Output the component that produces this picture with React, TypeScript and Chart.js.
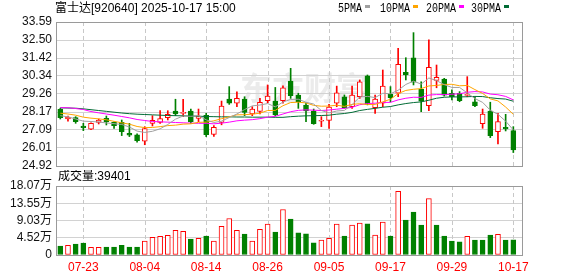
import React, { useEffect, useRef } from 'react';
import { Chart, registerables } from 'chart.js';

Chart.register(...registerables);

// ---------------- data ----------------
const dates = [
  '07-18', '07-21', '07-22', '07-23', '07-24', '07-25', '07-28', '07-29', '07-30', '07-31',
  '08-01', '08-04', '08-05', '08-06', '08-07', '08-08', '08-11', '08-12', '08-13', '08-14',
  '08-15', '08-18', '08-19', '08-20', '08-21', '08-22', '08-25', '08-26', '08-27', '08-28',
  '08-29', '09-01', '09-02', '09-03', '09-04', '09-05', '09-08', '09-09', '09-10', '09-11',
  '09-12', '09-15', '09-16', '09-17', '09-18', '09-19', '09-22', '09-23', '09-24', '09-25',
  '09-26', '09-29', '09-30', '10-09', '10-10', '10-13', '10-14', '10-15', '10-16', '10-17',
];

const openP = [
  28.33, 27.76, 27.83, 27.33, 27.13, 27.55, 27.79, 27.55, 27.55, 26.89,
  26.79, 26.41, 27.49, 27.55, 27.83, 28.23, 28.09, 28.23, 27.79, 27.97,
  26.82, 27.55, 28.95, 28.70, 28.95, 28.05, 28.20, 28.85, 28.83, 28.85,
  30.04, 29.19, 28.59, 28.23, 27.62, 27.67, 28.70, 29.09, 28.49, 29.09,
  30.35, 28.43, 28.70, 29.24, 29.30, 30.56, 31.44, 29.54, 28.55, 30.08,
  30.16, 29.30, 29.30, 29.17, 28.79, 27.47, 28.23, 26.99, 27.25, 27.05,
];
const highP = [
  28.40, 27.92, 27.89, 27.49, 27.52, 27.75, 27.93, 27.58, 27.69, 27.49,
  26.85, 27.29, 27.95, 28.25, 28.25, 28.94, 28.94, 28.35, 28.35, 28.09,
  27.35, 28.83, 29.70, 29.39, 29.09, 28.49, 29.00, 29.80, 29.65, 29.75,
  30.80, 29.30, 28.73, 28.35, 27.89, 28.63, 29.73, 29.20, 29.73, 30.10,
  30.40, 29.19, 30.70, 29.70, 32.00, 31.44, 32.95, 29.99, 32.51, 31.00,
  30.20, 29.50, 29.40, 30.30, 29.09, 28.35, 28.76, 28.09, 28.03, 27.29,
];
const lowP = [
  27.75, 27.62, 27.49, 27.05, 27.10, 27.45, 27.39, 27.19, 26.75, 26.69,
  26.35, 26.20, 27.33, 27.49, 27.69, 27.95, 27.89, 27.49, 27.59, 26.69,
  26.70, 27.40, 28.63, 28.49, 27.95, 27.95, 28.05, 28.73, 27.93, 28.70,
  28.99, 28.39, 27.59, 27.43, 27.29, 27.19, 28.49, 28.40, 28.39, 28.99,
  28.60, 28.09, 28.49, 28.79, 29.09, 30.10, 29.80, 28.19, 28.25, 29.63,
  29.13, 28.90, 28.79, 29.09, 28.49, 27.19, 26.63, 26.25, 27.03, 25.73,
];
const closeP = [
  27.83, 27.86, 27.59, 27.23, 27.49, 27.69, 27.57, 27.35, 26.99, 26.77,
  26.44, 27.17, 27.67, 27.77, 28.03, 28.05, 28.15, 27.57, 27.93, 26.80,
  27.25, 28.53, 28.70, 28.99, 28.15, 28.35, 28.76, 29.13, 28.00, 29.62,
  29.15, 28.79, 28.23, 27.47, 27.67, 28.47, 29.33, 28.43, 29.19, 29.99,
  28.63, 28.95, 29.73, 29.03, 31.04, 30.40, 29.96, 28.83, 30.86, 30.26,
  29.19, 29.09, 28.85, 29.23, 28.55, 28.05, 26.75, 27.59, 27.15, 25.89,
];

// volume in 万 shares
const volume = [
  2.35, 2.53, 2.87, 3.13, 2.00, 2.00, 2.09, 2.09, 2.53, 2.09,
  2.09, 3.65, 4.61, 4.87, 5.13, 6.43, 6.17, 4.17, 4.35, 4.95,
  3.65, 7.48, 9.56, 6.43, 5.48, 3.65, 6.70, 8.08, 6.00, 11.91,
  9.39, 5.82, 5.56, 3.21, 3.91, 4.35, 8.08, 4.95, 7.82, 8.34,
  8.17, 5.21, 8.60, 4.95, 16.69, 9.13, 11.21, 7.82, 14.78, 7.82,
  4.95, 3.65, 3.47, 4.87, 3.91, 3.91, 5.21, 5.40, 3.91, 3.9401,
];

const ma5 = [
  27.95, 27.88, 27.75, 27.62, 27.60, 27.57, 27.51, 27.47, 27.42, 27.27,
  27.02, 26.94, 27.01, 27.16, 27.42, 27.74, 27.93, 27.91, 27.95, 27.70,
  27.54, 27.62, 27.84, 28.05, 28.32, 28.54, 28.59, 28.68, 28.48, 28.77,
  28.93, 28.94, 28.76, 28.65, 28.26, 28.12, 28.23, 28.27, 28.61, 29.08,
  29.11, 29.04, 29.30, 29.27, 29.48, 29.83, 30.03, 29.85, 30.22, 30.06,
  29.82, 29.65, 29.65, 29.32, 28.98, 28.75, 28.28, 28.03, 27.62, 27.09,
];
const ma10 = [
  28.10, 28.05, 27.98, 27.86, 27.80, 27.76, 27.70, 27.61, 27.52, 27.44,
  27.30, 27.23, 27.24, 27.29, 27.35, 27.38, 27.44, 27.46, 27.55, 27.56,
  27.64, 27.77, 27.88, 28.00, 28.01, 28.04, 28.10, 28.26, 28.27, 28.55,
  28.74, 28.76, 28.72, 28.57, 28.52, 28.53, 28.58, 28.51, 28.63, 28.67,
  28.62, 28.63, 28.78, 28.94, 29.28, 29.47, 29.54, 29.58, 29.74, 29.77,
  29.83, 29.84, 29.75, 29.77, 29.52, 29.29, 28.96, 28.84, 28.47, 28.03,
];
const ma20 = [
  28.43, 28.43, 28.38, 28.32, 28.20, 28.12, 28.05, 27.98, 27.90, 27.82,
  27.72, 27.66, 27.60, 27.58, 27.56, 27.54, 27.52, 27.50, 27.49, 27.49,
  27.46, 27.50, 27.56, 27.64, 27.68, 27.71, 27.77, 27.86, 27.91, 28.05,
  28.19, 28.27, 28.30, 28.28, 28.26, 28.29, 28.34, 28.39, 28.45, 28.61,
  28.68, 28.70, 28.75, 28.75, 28.90, 29.00, 29.06, 29.05, 29.19, 29.22,
  29.22, 29.24, 29.27, 29.36, 29.40, 29.38, 29.25, 29.21, 29.11, 28.90,
];
const ma30 = [
  28.42, 28.41, 28.40, 28.36, 28.31, 28.26, 28.21, 28.16, 28.11, 28.07,
  28.04, 28.02, 28.00, 27.98, 27.96, 27.95, 27.94, 27.93, 27.92, 27.90,
  27.89, 27.88, 27.88, 27.87, 27.87, 27.86, 27.86, 27.86, 27.85, 27.85,
  27.89, 27.92, 27.94, 27.95, 27.96, 27.98, 28.04, 28.08, 28.15, 28.26,
  28.33, 28.39, 28.46, 28.50, 28.60, 28.68, 28.74, 28.78, 28.88, 29.00,
  29.06, 29.08, 29.08, 29.09, 29.11, 29.10, 29.03, 28.98, 28.95, 28.82,
];

const priceTicks = [24.92, 26.01, 27.09, 28.17, 29.26, 30.34, 31.42, 32.50, 33.59];
const volumeTicks = [0, 4.52, 9.03, 13.55, 18.07];
const dateTickIndex = [3, 11, 19, 27, 35, 43, 51, 59];

const titleText = '富士达[920640] 2025-10-17 15:00';
const volumeLabel = '成交量:39401';
const maLabels = ['5PMA', '10PMA', '20PMA', '30PMA'];
const maColors = ['#a0a0a0', '#ffa500', '#ff00ff', '#006b35'];

// ---------------- styles ----------------
const RED = '#ff0000';
const GREEN = '#008000';
const FONT = "'Liberation Sans', 'Noto Sans CJK SC', sans-serif";
const GRID = '#d2d2d2';
const FRAME = '#9a9a9a';
const X_MIN = -0.56;
const X_MAX = 60.13;

const idx = dates.map((_, i) => i);
const candleUp = idx.map((i) => closeP[i] >= openP[i]);
const volumeUp = idx.map((i) => (i === 0 ? candleUp[0] : closeP[i] > closeP[i - 1]));

function drawCondensed(ctx: CanvasRenderingContext2D, text: string, x: number, y: number, sx: number) {
  ctx.save();
  ctx.translate(x, y);
  ctx.scale(sx, 1);
  ctx.fillText(text, 0, 0);
  ctx.restore();
}

function xScale(showLabels: boolean): any {
  return {
    type: 'linear',
    min: X_MIN,
    max: X_MAX,
    offset: false,
    afterBuildTicks: (s: any) => {
      s.ticks = dateTickIndex.map((v) => ({ value: v }));
    },
    afterFit: (s: any) => {
      s.height = showLabels ? 21 : 0;
      s.paddingLeft = 0;
      s.paddingRight = 0;
    },
    ticks: {
      display: showLabels,
      autoSkip: false,
      maxRotation: 0,
      padding: 5,
      color: RED,
      font: { family: FONT, size: 12 },
      callback: (v: any) => dates[Number(v)] ?? '',
    },
    grid: { display: false, drawTicks: false, offset: false },
    border: { display: false },
  };
}

function yScale(min: number, max: number, ticks: number[], fmt: (v: number) => string): any {
  return {
    type: 'linear',
    min,
    max,
    afterBuildTicks: (s: any) => {
      s.ticks = ticks.map((v) => ({ value: v }));
    },
    afterFit: (s: any) => {
      s.width = 56;
      s.paddingTop = 0;
      s.paddingBottom = 0;
    },
    ticks: {
      autoSkip: false,
      padding: 4,
      color: '#111',
      font: { family: FONT, size: 12 },
      callback: (v: any) => fmt(Number(v)),
    },
    grid: { color: GRID, drawTicks: false, lineWidth: 1 },
    border: { display: false },
  };
}

// dashed vertical grid lines at the date ticks
const dashedGridPlugin = {
  id: 'dashedGrid',
  beforeDatasetsDraw(chart: any) {
    const { ctx, chartArea: a, scales } = chart;
    ctx.save();
    ctx.strokeStyle = '#c8c8c8';
    ctx.lineWidth = 1;
    ctx.setLineDash([4, 3]);
    dateTickIndex.forEach((v) => {
      const px = Math.round(scales.x.getPixelForValue(v)) + 0.5;
      ctx.beginPath();
      ctx.moveTo(px, a.top);
      ctx.lineTo(px, a.bottom);
      ctx.stroke();
    });
    ctx.restore();
  },
};

const framePlugin = {
  id: 'frame',
  afterDraw(chart: any) {
    const { ctx, chartArea: a } = chart;
    ctx.save();
    ctx.setLineDash([]);
    ctx.strokeStyle = FRAME;
    ctx.lineWidth = 1;
    ctx.strokeRect(Math.round(a.left) + 0.5, Math.round(a.top) + 0.5, Math.round(a.right - a.left), Math.round(a.bottom - a.top));
    ctx.restore();
  },
};

function priceConfig(): any {
  const maSets = [ma5, ma10, ma20, ma30].map((arr, k) => ({
    type: 'line',
    label: maLabels[k],
    data: idx.map((i) => ({ x: i, y: arr[i] })),
    borderColor: maColors[k],
    borderWidth: 1,
    pointRadius: 0,
    tension: 0,
    order: 0,
  }));
  return {
    type: 'bar',
    data: {
      datasets: [
        ...maSets,
        {
          type: 'bar',
          label: 'body',
          data: idx.map((i) => ({ x: i, y: [openP[i], closeP[i]] })),
          backgroundColor: idx.map((i) => (candleUp[i] ? '#ffffff' : GREEN)),
          borderColor: idx.map((i) => (candleUp[i] ? RED : GREEN)),
          borderWidth: 1,
          borderSkipped: false,
          barThickness: 5,
          grouped: false,
          order: 1,
        },
        {
          type: 'bar',
          label: 'wick',
          data: idx.map((i) => ({ x: i, y: [lowP[i], highP[i]] })),
          backgroundColor: idx.map((i) => (candleUp[i] ? RED : GREEN)),
          borderWidth: 0,
          barThickness: 1,
          grouped: false,
          order: 2,
        },
      ],
    },
    options: {
      responsive: false,
      animation: false,
      devicePixelRatio: 1,
      events: [],
      layout: { padding: { top: 22, left: 0, right: 56, bottom: 4 } },
      plugins: { legend: { display: false }, tooltip: { enabled: false } },
      scales: {
        x: xScale(false),
        y: yScale(24.92, 33.59, priceTicks, (v) => v.toFixed(2)),
      },
    },
    plugins: [
      {
        id: 'watermark',
        beforeDraw(chart: any) {
          const { ctx } = chart;
          ctx.save();
          ctx.fillStyle = '#ebebeb';
          ctx.font = "bold 32px 'Noto Sans CJK SC'";
          ctx.textBaseline = 'middle';
          ctx.fillText('东方财富', 240, 88);
          ctx.restore();
        },
      },
      dashedGridPlugin,
      framePlugin,
      {
        id: 'header',
        afterDraw(chart: any) {
          const { ctx } = chart;
          ctx.save();
          ctx.fillStyle = '#000';
          ctx.textBaseline = 'middle';
          ctx.font = `12px ${FONT}`;
          ctx.fillText(titleText, 55, 9);
          ctx.font = "12px 'Liberation Mono', monospace";
          const starts = [338, 380, 426, 471];
          maLabels.forEach((lab, k) => {
            ctx.fillStyle = '#000';
            drawCondensed(ctx, lab, starts[k], 9, 0.83);
            const w = ctx.measureText(lab).width * 0.83;
            ctx.fillStyle = maColors[k];
            ctx.fillRect(Math.round(starts[k] + w + 3), 5, 5, 3);
          });
          ctx.restore();
        },
      },
    ],
  };
}

function volumeConfig(): any {
  return {
    type: 'bar',
    data: {
      datasets: [
        {
          type: 'bar',
          label: 'volume',
          data: idx.map((i) => ({ x: i, y: volume[i] })),
          backgroundColor: idx.map((i) => (volumeUp[i] ? '#ffffff' : GREEN)),
          borderColor: idx.map((i) => (volumeUp[i] ? RED : GREEN)),
          borderWidth: 1,
          borderSkipped: false,
          barThickness: 5,
          grouped: false,
        },
      ],
    },
    options: {
      responsive: false,
      animation: false,
      devicePixelRatio: 1,
      events: [],
      layout: { padding: { top: 16, left: 0, right: 56, bottom: 0 } },
      plugins: { legend: { display: false }, tooltip: { enabled: false } },
      scales: {
        x: xScale(true),
        y: yScale(0, 18.07, volumeTicks, (v) => (v === 0 ? '0' : v.toFixed(2) + '万')),
      },
    },
    plugins: [
      dashedGridPlugin,
      framePlugin,
      {
        id: 'volLabel',
        afterDraw(chart: any) {
          const { ctx } = chart;
          ctx.save();
          ctx.fillStyle = '#000';
          ctx.textBaseline = 'middle';
          ctx.font = `12px ${FONT}`;
          ctx.fillText(volumeLabel, 58, 7);
          ctx.restore();
        },
      },
    ],
  };
}

export default function App() {
  const priceRef = useRef<HTMLCanvasElement>(null);
  const volRef = useRef<HTMLCanvasElement>(null);

  useEffect(() => {
    const c1 = new Chart(priceRef.current as HTMLCanvasElement, priceConfig());
    const c2 = new Chart(volRef.current as HTMLCanvasElement, volumeConfig());
    return () => {
      c1.destroy();
      c2.destroy();
    };
  }, []);

  return (
    <div style={{ position: 'absolute', left: 0, top: 0, width: 578, height: 276, background: '#fff' }}>
      <canvas ref={priceRef} width={578} height={170} style={{ position: 'absolute', left: 0, top: 0, width: 578, height: 170 }} />
      <canvas ref={volRef} width={578} height={106} style={{ position: 'absolute', left: 0, top: 170, width: 578, height: 106 }} />
    </div>
  );
}
